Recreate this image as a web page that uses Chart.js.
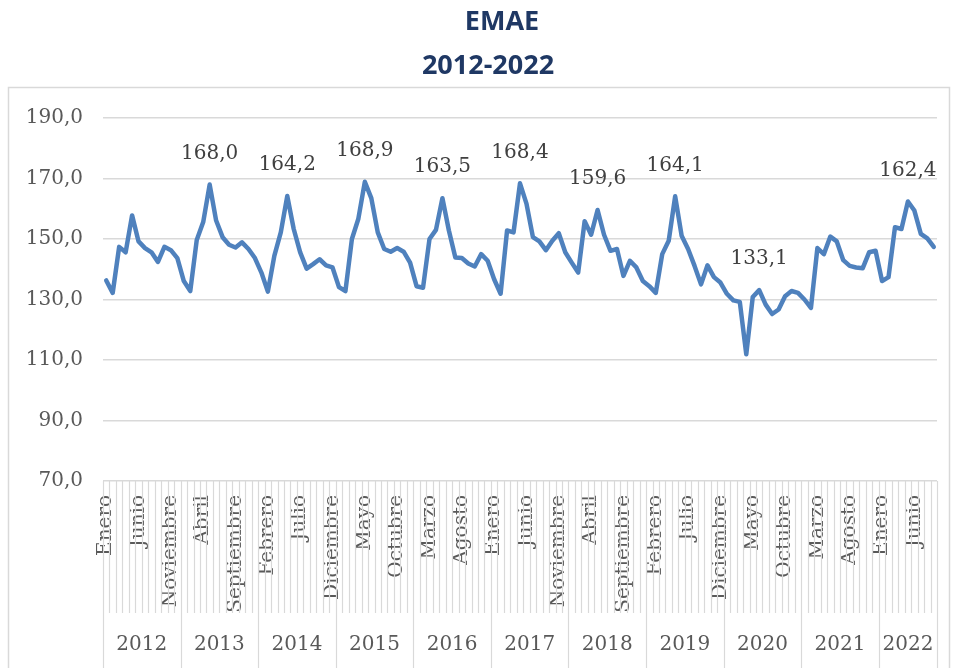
<!DOCTYPE html>
<html>
<head>
<meta charset="utf-8">
<script src="https://cdn.jsdelivr.net/npm/chart.js@4"></script>
<style>
  html, body { margin: 0; padding: 0; background: #fff; }
  #wrap { width: 955px; height: 668px; position: relative; }
</style>
</head>
<body>
<div id="wrap"><canvas id="myChart"></canvas></div>
<script>
// data
var years = ['2012', '2013', '2014', '2015', '2016', '2017', '2018', '2019', '2020', '2021', '2022'];
var months = ['Enero', 'Febrero', 'Marzo', 'Abril', 'Mayo', 'Junio', 'Julio', 'Agosto',
              'Septiembre', 'Octubre', 'Noviembre', 'Diciembre'];
var emae2012 = [136.3, 132.2, 147.4, 145.6, 157.8, 149.2, 147.0, 145.6, 142.4, 147.4, 146.3, 143.7];
var emae2013 = [136.1, 132.8, 149.7, 155.6, 168.0, 156.1, 150.6, 148.1, 147.2, 148.9, 146.7, 143.7];
var emae2014 = [138.9, 132.6, 144.4, 152.2, 164.2, 153.3, 145.6, 140.2, 141.7, 143.3, 141.3, 140.6];
var emae2015 = [134.1, 132.8, 150.0, 156.7, 168.9, 163.5, 152.2, 146.7, 145.8, 147.0, 145.8, 142.2];
var emae2016 = [134.4, 133.9, 150.0, 153.0, 163.5, 152.8, 143.9, 143.7, 141.9, 140.9, 145.0, 142.8];
var emae2017 = [136.7, 131.9, 152.8, 152.2, 168.4, 161.7, 150.6, 149.2, 146.3, 149.4, 151.9, 145.6];
var emae2018 = [142.2, 138.9, 155.9, 151.4, 159.6, 151.4, 146.1, 146.7, 137.8, 142.8, 140.6, 136.1];
var emae2019 = [134.4, 132.2, 145.0, 149.4, 164.1, 151.1, 146.7, 141.1, 135.0, 141.3, 137.4, 135.6];
var emae2020 = [131.9, 129.7, 129.2, 111.9, 130.8, 133.1, 128.3, 125.2, 126.7, 131.1, 132.8, 132.2];
var emae2021 = [130.0, 127.2, 147.0, 145.0, 150.8, 149.2, 143.0, 141.1, 140.6, 140.3, 145.6, 146.1];
var emae2022 = [136.1, 137.4, 153.9, 153.3, 162.4, 159.4, 151.7, 150.2, 147.4];
// which points carry a value label
var labeled = [16, 28, 40, 52, 64, 76, 88, 101, 124];

var values = [].concat(emae2012, emae2013, emae2014, emae2015, emae2016, emae2017,
                       emae2018, emae2019, emae2020, emae2021, emae2022);
var labels = [];
for (var i = 0; i < values.length; i++) {
    labels.push(months[i % 12]);
}

function fmt(v) {
    return v.toFixed(1).replace('.', ',');
}

var serif = '"DejaVu Serif", serif';
var grey = '#595959';
var lineGrey = '#D9D9D9';

var decor = {
    id: 'decor',
    afterDraw: function (chart) {
        var ctx = chart.ctx;
        var xs = chart.scales.x;
        var area = chart.chartArea;
        var n = values.length;
        ctx.save();

        // outer frame
        ctx.strokeStyle = lineGrey;
        ctx.lineWidth = 1.5;
        ctx.strokeRect(8.5, 87.5, 941, 600);

        // title
        ctx.fillStyle = '#1F3864';
        ctx.font = 'bold 27px "Open Sans", sans-serif';
        ctx.textAlign = 'center';
        ctx.textBaseline = 'middle';
        ctx.fillText('EMAE', 502, 22);
        ctx.fillText('2012-2022', 488, 66);

        // category dividers
        function edge(k) {
            if (k === 0) return xs.left;
            if (k === n) return xs.right;
            return (xs.getPixelForValue(k - 1) + xs.getPixelForValue(k)) / 2;
        }
        ctx.strokeStyle = lineGrey;
        ctx.lineWidth = 1.2;
        for (var k = 0; k <= n; k++) {
            var x = Math.round(edge(k)) + 0.5;
            var bottom = (k % 12 === 0 || k === n) ? chart.height : 613;
            ctx.beginPath();
            ctx.moveTo(x, area.bottom);
            ctx.lineTo(x, bottom);
            ctx.stroke();
        }

        // year labels
        ctx.fillStyle = grey;
        ctx.font = '20px ' + serif;
        for (var y = 0; y < years.length; y++) {
            var a = edge(y * 12);
            var b = edge(Math.min((y + 1) * 12, n));
            ctx.fillText(years[y], (a + b) / 2, 645);
        }

        // value labels
        var meta = chart.getDatasetMeta(0);
        ctx.fillStyle = '#404040';
        ctx.font = '20px ' + serif;
        labeled.forEach(function (idx) {
            var p = meta.data[idx];
            ctx.fillText(fmt(values[idx]), p.x, p.y - 31);
        });
        ctx.restore();
    }
};

window.onload = function () {
    var ctx = document.getElementById('myChart').getContext('2d');
    var chart = new Chart(ctx, {
        type: 'line',
        data: {
            labels: labels,
            datasets: [{
                label: 'EMAE',
                data: values,
                borderColor: '#4F81BD',
                borderWidth: 4.5,
                pointRadius: 0,
                fill: false,
                tension: 0,
                borderJoinStyle: 'round',
                borderCapStyle: 'round'
            }]
        },
        options: {
            responsive: true,
            maintainAspectRatio: false,
            animation: false,
            layout: { padding: { left: 26, right: 18, top: 118, bottom: 56 } },
            plugins: {
                legend: { display: false },
                title: { display: false },
                tooltip: { enabled: false }
            },
            scales: {
                x: {
                    type: 'category',
                    offset: true,
                    border: { display: false },
                    grid: { display: false },
                    afterFit: function (scale) {
                        scale.paddingLeft = 0;
                        scale.paddingRight = 0;
                        scale.height = 131;
                    },
                    ticks: {
                        autoSkip: false,
                        maxRotation: 90,
                        minRotation: 90,
                        padding: 6,
                        color: grey,
                        font: { family: serif, size: 20 },
                        callback: function (val, idx) {
                            return idx % 5 === 0 ? labels[idx] : '';
                        }
                    }
                },
                y: {
                    min: 70,
                    max: 190,
                    border: { display: false },
                    grid: { color: lineGrey, lineWidth: 1.5, drawTicks: false },
                    afterFit: function (scale) {
                        scale.width = 77;
                    },
                    ticks: {
                        stepSize: 20,
                        padding: 20,
                        color: grey,
                        font: { family: serif, size: 20 },
                        callback: function (v) { return fmt(v); }
                    }
                }
            }
        },
        plugins: [decor]
    });
};
</script>
</body>
</html>
